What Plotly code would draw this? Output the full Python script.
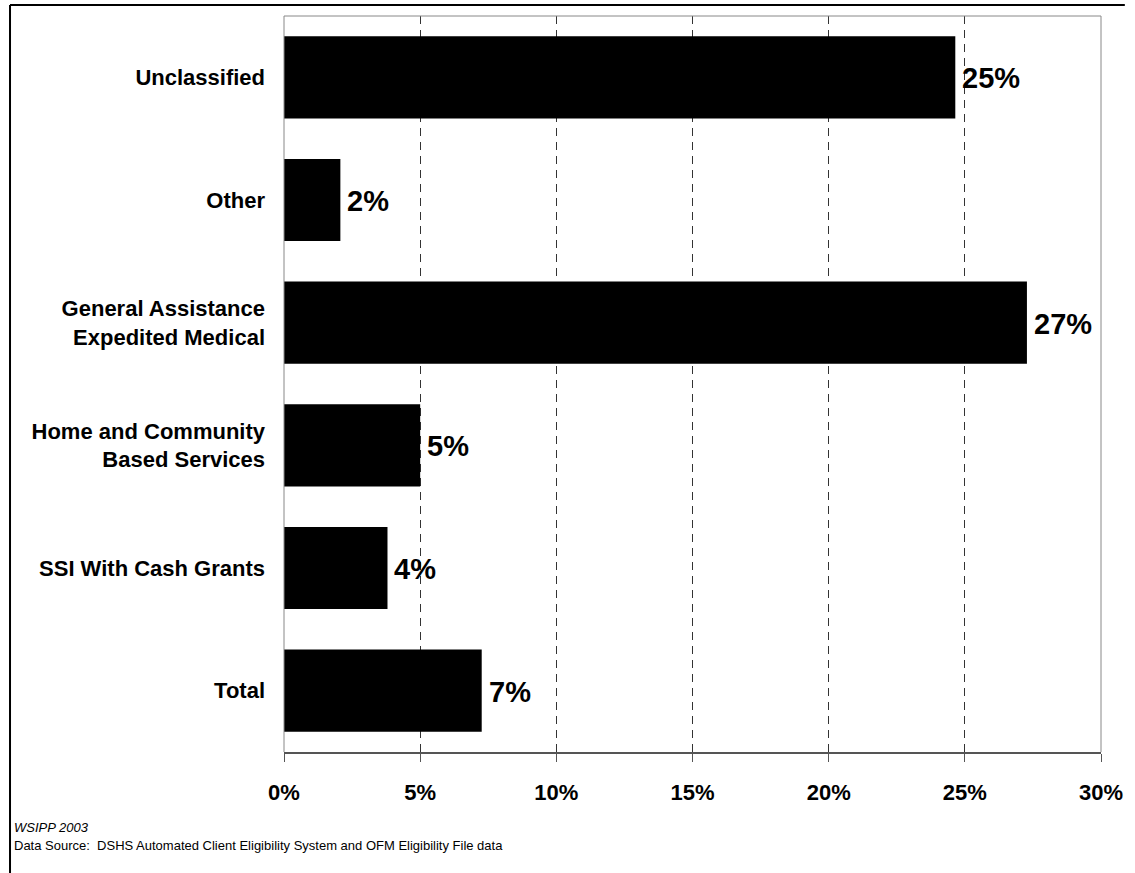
import plotly.graph_objects as go

# Share of clients by eligibility group (bottom to top as drawn)
categories = [
    "Total",
    "SSI With Cash Grants",
    "Home and Community<br>Based Services",
    "General Assistance<br>Expedited Medical",
    "Other",
    "Unclassified",
]
values = [7.26, 3.80, 5.00, 27.28, 2.07, 24.65]
value_labels = ["7%", "4%", "5%", "27%", "2%", "25%"]
tick_values = [0, 5, 10, 15, 20, 25, 30]
tick_labels = ["0%", "5%", "10%", "15%", "20%", "25%", "30%"]

FONT = "Liberation Sans, Arial, sans-serif"
W, H = 1135, 873
L, R, T, B = 284, 28, 16, 121
pw, ph = W - L - R, H - T - B


def px_x(x):
    return (x - L) / pw


def px_y(y):
    return (H - B - y) / ph


fig = go.Figure()
fig.add_trace(go.Bar(
    y=categories,
    x=values,
    orientation="h",
    marker=dict(color="black", line=dict(width=0)),
    width=0.67,
    hoverinfo="skip",
))

shapes = [
    # plot frame: left, top, right in grey
    dict(type="line", xref="paper", yref="paper", x0=0, x1=0, y0=0, y1=1,
         line=dict(color="#888888", width=1)),
    dict(type="line", xref="paper", yref="paper", x0=0, x1=1, y0=1, y1=1,
         line=dict(color="#888888", width=1)),
    dict(type="line", xref="paper", yref="paper", x0=1, x1=1, y0=0, y1=1,
         line=dict(color="#888888", width=1)),
    # outer border (top and left edges)
    dict(type="line", xref="paper", yref="paper", x0=px_x(8), x1=px_x(1131),
         y0=px_y(5), y1=px_y(5), line=dict(color="black", width=2)),
    dict(type="line", xref="paper", yref="paper", x0=px_x(8), x1=px_x(8),
         y0=px_y(5), y1=px_y(880), line=dict(color="black", width=2)),
]

annotations = []
# value labels just past the end of each bar
for cat, val, lab in zip(categories, values, value_labels):
    annotations.append(dict(
        x=val, y=cat, xref="x", yref="y",
        text=lab, showarrow=False,
        xanchor="left", yanchor="middle", xshift=5, yshift=-1,
        font=dict(family=FONT, size=29, color="black", weight="bold"),
    ))

annotations += [
    dict(text="<i>WSIPP 2003</i>", xref="paper", yref="paper",
         x=px_x(10), y=px_y(827), xanchor="left", yanchor="middle",
         showarrow=False, font=dict(family=FONT, size=13, color="black")),
    dict(text="Data Source:  DSHS Automated Client Eligibility System and OFM Eligibility File data",
         xref="paper", yref="paper",
         x=px_x(10), y=px_y(845), xanchor="left", yanchor="middle",
         showarrow=False, font=dict(family=FONT, size=13, color="black")),
]

fig.update_layout(
    width=W, height=H,
    margin=dict(l=L, r=R, t=T, b=B, pad=0),
    paper_bgcolor="white",
    plot_bgcolor="white",
    showlegend=False,
    bargap=0.33,
    shapes=shapes,
    annotations=annotations,
    xaxis=dict(
        range=[0, 30],
        tickvals=tick_values,
        ticktext=tick_labels,
        ticks="outside",
        ticklen=8,
        tickcolor="#555555",
        tickwidth=1,
        ticklabelstandoff=12,
        tickfont=dict(family=FONT, size=22, color="black", weight="bold"),
        showgrid=True,
        gridcolor="#333333",
        gridwidth=1,
        griddash="8px,6px",
        showline=True,
        linecolor="#555555",
        linewidth=2,
        zeroline=False,
        fixedrange=True,
    ),
    yaxis=dict(
        categoryorder="array",
        categoryarray=categories,
        tickfont=dict(family=FONT, size=22, color="black", weight="bold"),
        ticks="",
        ticklabelstandoff=18,
        showgrid=False,
        showline=False,
        zeroline=False,
        fixedrange=True,
    ),
)

fig.write_html("out.html")
